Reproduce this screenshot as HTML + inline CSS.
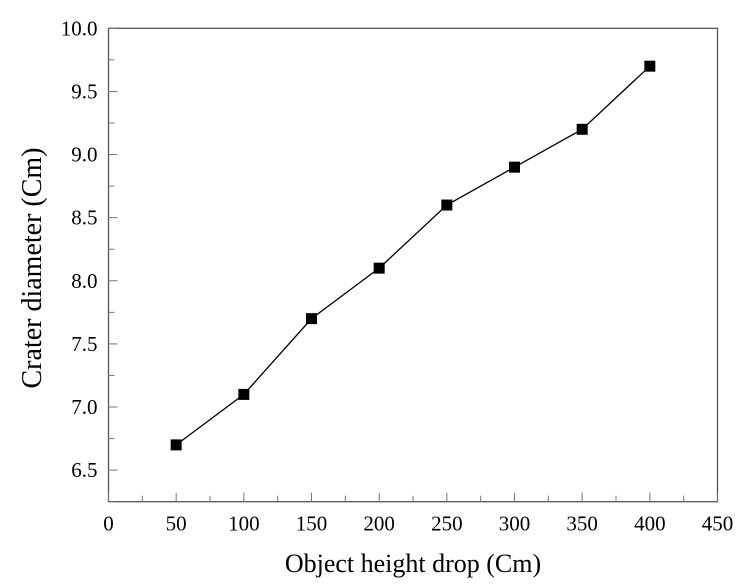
<!DOCTYPE html>
<html><head><meta charset="utf-8"><style>
html,body{margin:0;padding:0;background:#fff;}
svg{display:block;font-family:"Liberation Serif",serif;}
</style></head><body>
<svg id="chart" width="738" height="584"></svg>
<script>
const categories=[50,100,150,200,250,300,350,400];
const diameters=[6.7,7.1,7.7,8.1,8.6,8.9,9.2,9.7];
const xTickLabels=[0,50,100,150,200,250,300,350,400,450];
const yTickLabels=["6.5","7.0","7.5","8.0","8.5","9.0","9.5","10.0"];
const NS="http://www.w3.org/2000/svg";
const svg=document.getElementById('chart');
const L=108.5,R=717.5,T=28.3,B=501.7;
const xMin=0,xMax=450,yMin=6.25,yMax=10;
const xs=v=>L+(v-xMin)/(xMax-xMin)*(R-L);
const ys=v=>B-(v-yMin)/(yMax-yMin)*(B-T);
function mk(tag,attrs,parent){const e=document.createElementNS(NS,tag);for(const k in attrs)e.setAttribute(k,attrs[k]);(parent||svg).appendChild(e);return e;}
const frame=mk('rect',{x:L,y:T,width:R-L,height:B-T,fill:'none',stroke:'#555','stroke-width':1.3});


for(let v=0;v<=450;v+=25){
  const major=v%50===0;
  const t=mk('line',{x1:xs(v),x2:xs(v),y1:B,y2:B-(major?9:6),stroke:'#777','stroke-width':1});
  
  
}
xTickLabels.forEach(v=>{
  const t=mk('text',{x:xs(v),y:B+29,'text-anchor':'middle','font-size':21,fill:'#000'});
  t.textContent=v;
  
  
});
for(let v=6.25;v<=10.001;v+=0.25){
  const major=Math.abs((v*2)-Math.round(v*2))<1e-6;
  const t=mk('line',{x1:L,x2:L+(major?9:6),y1:ys(v),y2:ys(v),stroke:'#777','stroke-width':1});
  
  
}
yTickLabels.forEach(s=>{
  const t=mk('text',{x:L-11,y:ys(parseFloat(s))+7,'text-anchor':'end','font-size':21,fill:'#000'});
  t.textContent=s;
  
  
});
const pts=categories.map((c,i)=>xs(c)+','+ys(diameters[i])).join(' ');
const line=mk('polyline',{points:pts,fill:'none',stroke:'#000','stroke-width':1.3});


categories.forEach((c,i)=>{
  const m=mk('rect',{x:xs(c)-5.5,y:ys(diameters[i])-5.5,width:11,height:11,fill:'#000'});
  
  
});
const xt=mk('text',{x:413,y:572,'text-anchor':'middle','font-size':26,fill:'#000'});
xt.textContent='Object height drop (Cm)';


const yt=mk('text',{x:0,y:0,'text-anchor':'middle','font-size':28,fill:'#000',transform:`translate(41,268) rotate(-90)`});
yt.textContent='Crater diameter (Cm)';


</script>
</body></html>
